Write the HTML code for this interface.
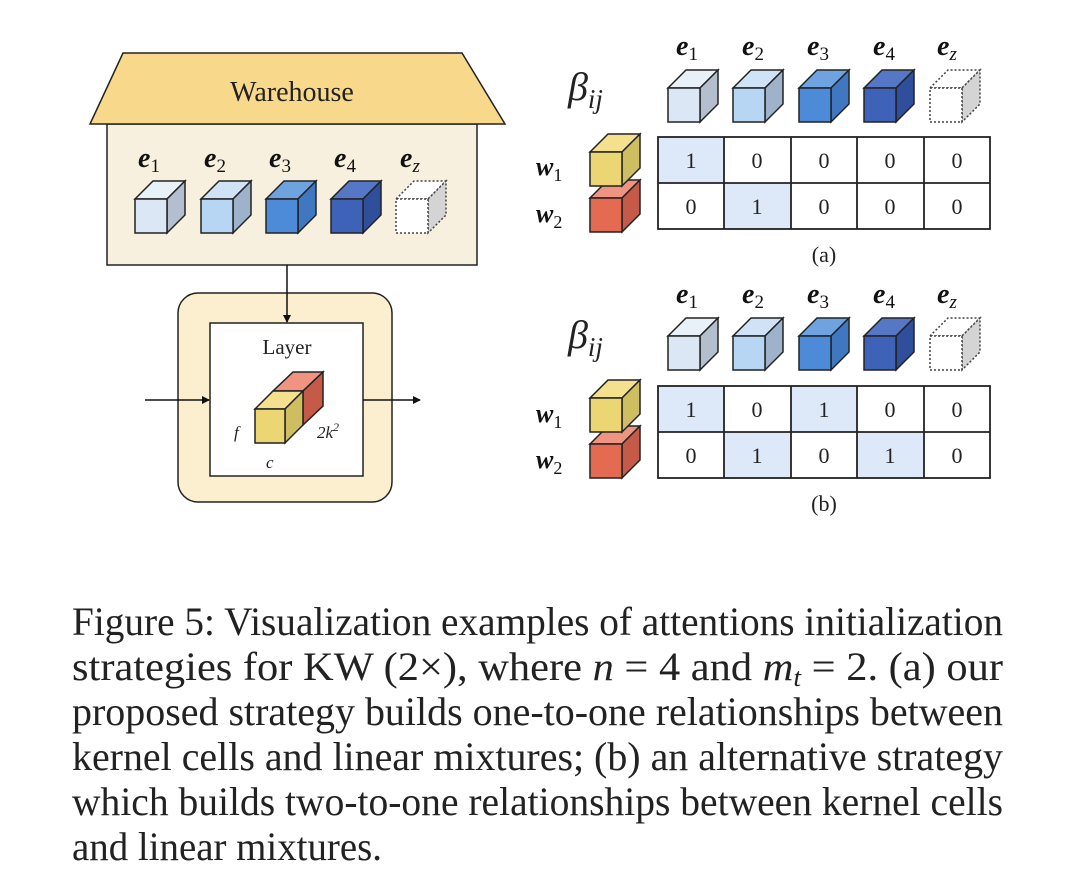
<!DOCTYPE html>
<html><head><meta charset="utf-8"><style>
html,body{margin:0;padding:0;background:#fff;}
svg{display:block;}
.s{font-family:"Liberation Serif","Times New Roman",serif;fill:#222;}
.b{font-family:"Liberation Serif","Times New Roman",serif;font-weight:bold;font-style:italic;fill:#111;}
</style></head><body>
<svg width="1080" height="896" viewBox="0 0 1080 896" xmlns="http://www.w3.org/2000/svg">
<defs>
<symbol id="c1" overflow="visible"><polygon points="0,18 18,0 50,0 32,18" fill="#e8f0f8" stroke="#222" stroke-width="1.5"/><polygon points="32,18 50,0 50,34 32,52" fill="#b3bfce" stroke="#222" stroke-width="1.5"/><rect x="0" y="18" width="32" height="34" fill="#dbe7f4" stroke="#222" stroke-width="1.5"/></symbol>
<symbol id="c2" overflow="visible"><polygon points="0,18 18,0 50,0 32,18" fill="#cfe2f6" stroke="#222" stroke-width="1.5"/><polygon points="32,18 50,0 50,34 32,52" fill="#9fb2cc" stroke="#222" stroke-width="1.5"/><rect x="0" y="18" width="32" height="34" fill="#b6d6f4" stroke="#222" stroke-width="1.5"/></symbol>
<symbol id="c3" overflow="visible"><polygon points="0,18 18,0 50,0 32,18" fill="#6fa3e0" stroke="#222" stroke-width="1.5"/><polygon points="32,18 50,0 50,34 32,52" fill="#3f78c0" stroke="#222" stroke-width="1.5"/><rect x="0" y="18" width="32" height="34" fill="#4d8bd8" stroke="#222" stroke-width="1.5"/></symbol>
<symbol id="c4" overflow="visible"><polygon points="0,18 18,0 50,0 32,18" fill="#5677c6" stroke="#222" stroke-width="1.5"/><polygon points="32,18 50,0 50,34 32,52" fill="#2f4f9c" stroke="#222" stroke-width="1.5"/><rect x="0" y="18" width="32" height="34" fill="#3d62b8" stroke="#222" stroke-width="1.5"/></symbol>
<symbol id="cz" overflow="visible"><polygon points="0,18 18,0 50,0 32,18" fill="#fff" stroke="#444" stroke-width="1.5" stroke-dasharray="2,2"/><polygon points="32,18 50,0 50,34 32,52" fill="#d4d4d4" stroke="#444" stroke-width="1.5" stroke-dasharray="2,2"/><rect x="0" y="18" width="32" height="34" fill="#fff" stroke="#444" stroke-width="1.5" stroke-dasharray="2,2"/></symbol>
<symbol id="cy" overflow="visible"><polygon points="0,18 18,0 50,0 32,18" fill="#f5e08e" stroke="#222" stroke-width="1.5"/><polygon points="32,18 50,0 50,34 32,52" fill="#cfbd62" stroke="#222" stroke-width="1.5"/><rect x="0" y="18" width="32" height="34" fill="#ecd674" stroke="#222" stroke-width="1.5"/></symbol>
<symbol id="cr" overflow="visible"><polygon points="0,18 18,0 50,0 32,18" fill="#ee9480" stroke="#222" stroke-width="1.5"/><polygon points="32,18 50,0 50,34 32,52" fill="#c55a48" stroke="#222" stroke-width="1.5"/><rect x="0" y="18" width="32" height="34" fill="#e46a52" stroke="#222" stroke-width="1.5"/></symbol>
<marker id="ah" markerWidth="8" markerHeight="8" refX="7" refY="4" orient="auto" markerUnits="userSpaceOnUse"><path d="M0,0 L8,4 L0,8 z" fill="#111"/></marker>
</defs>

<!-- Warehouse -->
<rect x="107" y="124" width="370" height="141" fill="#f7f0de" stroke="#222" stroke-width="1.5"/>
<polygon points="123,53 462,53 505,124 90,124" fill="#f8d98c" stroke="#222" stroke-width="1.5"/>
<text x="292" y="101" class="s" font-size="28" text-anchor="middle" fill="#333">Warehouse</text>
<g class="b" font-size="28">
<text x="138" y="167">e<tspan font-size="19" font-style="normal" font-weight="normal" dy="5">1</tspan></text>
<text x="204" y="167">e<tspan font-size="19" font-style="normal" font-weight="normal" dy="5">2</tspan></text>
<text x="269" y="167">e<tspan font-size="19" font-style="normal" font-weight="normal" dy="5">3</tspan></text>
<text x="334" y="167">e<tspan font-size="19" font-style="normal" font-weight="normal" dy="5">4</tspan></text>
<text x="400" y="167">e<tspan font-size="19" font-style="italic" font-weight="normal" dy="5">z</tspan></text>
</g>
<use href="#c1" x="135" y="181"/>
<use href="#c2" x="201" y="181"/>
<use href="#c3" x="266" y="181"/>
<use href="#c4" x="331" y="181"/>
<use href="#cz" x="396" y="181"/>

<!-- Layer -->
<rect x="178" y="293" width="214" height="209" rx="20" fill="#fbefcf" stroke="#222" stroke-width="1.5"/>
<rect x="210" y="323" width="153" height="153" fill="#fff" stroke="#222" stroke-width="1.5"/>
<line x1="287" y1="265" x2="287" y2="322" stroke="#111" stroke-width="1.5" marker-end="url(#ah)"/>
<text x="287" y="354" class="s" font-size="21" text-anchor="middle" fill="#333">Layer</text>
<polygon points="273,391 303,391 323,372 293,372" fill="#ee9480" stroke="#222" stroke-width="1.5"/>
<polygon points="303,391 323,372 323,406 303,425" fill="#c55a48" stroke="#222" stroke-width="1.5"/>
<polygon points="255,409 285,409 303,391 273,391" fill="#f5e08e" stroke="#222" stroke-width="1.5"/>
<polygon points="285,409 303,391 303,425 285,443" fill="#cfbd62" stroke="#222" stroke-width="1.5"/>
<rect x="255" y="409" width="30" height="34" fill="#ecd674" stroke="#222" stroke-width="1.5"/>
<text x="234" y="438" class="s" font-size="17" font-style="italic">f</text>
<text x="317" y="438" class="s" font-size="17" font-style="italic">2k<tspan font-size="12" dy="-7">2</tspan></text>
<text x="266" y="468" class="s" font-size="17" font-style="italic">c</text>
<line x1="145" y1="400" x2="209" y2="400" stroke="#111" stroke-width="1.5" marker-end="url(#ah)"/>
<line x1="363" y1="400" x2="420" y2="400" stroke="#111" stroke-width="1.5" marker-end="url(#ah)"/>

<!-- (a) -->
<text x="568" y="100" class="s" font-size="40" font-style="italic">β<tspan font-size="27" dy="8">ij</tspan></text>
<g class="b" font-size="28">
<text x="676" y="55">e<tspan font-size="19" font-style="normal" font-weight="normal" dy="5">1</tspan></text>
<text x="742" y="55">e<tspan font-size="19" font-style="normal" font-weight="normal" dy="5">2</tspan></text>
<text x="807" y="55">e<tspan font-size="19" font-style="normal" font-weight="normal" dy="5">3</tspan></text>
<text x="873" y="55">e<tspan font-size="19" font-style="normal" font-weight="normal" dy="5">4</tspan></text>
<text x="937" y="55">e<tspan font-size="19" font-style="italic" font-weight="normal" dy="5">z</tspan></text>
</g>
<use href="#c1" x="668" y="70"/>
<use href="#c2" x="733" y="70"/>
<use href="#c3" x="799" y="70"/>
<use href="#c4" x="864" y="70"/>
<use href="#cz" x="930" y="70"/>
<use href="#cr" x="590" y="180"/>
<use href="#cy" x="590" y="134"/>
<g class="b" font-size="26">
<text x="536" y="175">w<tspan font-size="18" font-style="normal" font-weight="normal" dy="6">1</tspan></text>
<text x="536" y="222">w<tspan font-size="18" font-style="normal" font-weight="normal" dy="6">2</tspan></text>
</g>
<rect x="658" y="137" width="66" height="46" fill="#dde8f8"/>
<rect x="724" y="183" width="67" height="46" fill="#dde8f8"/>
<g stroke="#222" stroke-width="1.8" fill="none">
<rect x="658" y="137" width="332" height="92"/>
<line x1="658" y1="183" x2="990" y2="183"/>
<line x1="724" y1="137" x2="724" y2="229"/><line x1="791" y1="137" x2="791" y2="229"/><line x1="857" y1="137" x2="857" y2="229"/><line x1="924" y1="137" x2="924" y2="229"/>
</g>
<g class="s" font-size="22" text-anchor="middle">
<text x="691" y="168">1</text><text x="757" y="168">0</text><text x="824" y="168">0</text><text x="890" y="168">0</text><text x="957" y="168">0</text>
<text x="691" y="214">0</text><text x="757" y="214">1</text><text x="824" y="214">0</text><text x="890" y="214">0</text><text x="957" y="214">0</text>
<text x="824" y="262">(a)</text>
</g>

<!-- (b) -->
<text x="568" y="348" class="s" font-size="40" font-style="italic">β<tspan font-size="27" dy="8">ij</tspan></text>
<g class="b" font-size="28">
<text x="676" y="303">e<tspan font-size="19" font-style="normal" font-weight="normal" dy="5">1</tspan></text>
<text x="742" y="303">e<tspan font-size="19" font-style="normal" font-weight="normal" dy="5">2</tspan></text>
<text x="807" y="303">e<tspan font-size="19" font-style="normal" font-weight="normal" dy="5">3</tspan></text>
<text x="873" y="303">e<tspan font-size="19" font-style="normal" font-weight="normal" dy="5">4</tspan></text>
<text x="937" y="303">e<tspan font-size="19" font-style="italic" font-weight="normal" dy="5">z</tspan></text>
</g>
<use href="#c1" x="668" y="318"/>
<use href="#c2" x="733" y="318"/>
<use href="#c3" x="799" y="318"/>
<use href="#c4" x="864" y="318"/>
<use href="#cz" x="930" y="318"/>
<use href="#cr" x="590" y="426"/>
<use href="#cy" x="590" y="380"/>
<g class="b" font-size="26">
<text x="536" y="422">w<tspan font-size="18" font-style="normal" font-weight="normal" dy="6">1</tspan></text>
<text x="536" y="468">w<tspan font-size="18" font-style="normal" font-weight="normal" dy="6">2</tspan></text>
</g>
<rect x="658" y="386" width="66" height="46" fill="#dde8f8"/>
<rect x="791" y="386" width="66" height="46" fill="#dde8f8"/>
<rect x="724" y="432" width="67" height="46" fill="#dde8f8"/>
<rect x="857" y="432" width="67" height="46" fill="#dde8f8"/>
<g stroke="#222" stroke-width="1.8" fill="none">
<rect x="658" y="386" width="332" height="92"/>
<line x1="658" y1="432" x2="990" y2="432"/>
<line x1="724" y1="386" x2="724" y2="478"/><line x1="791" y1="386" x2="791" y2="478"/><line x1="857" y1="386" x2="857" y2="478"/><line x1="924" y1="386" x2="924" y2="478"/>
</g>
<g class="s" font-size="22" text-anchor="middle">
<text x="691" y="417">1</text><text x="757" y="417">0</text><text x="824" y="417">1</text><text x="890" y="417">0</text><text x="957" y="417">0</text>
<text x="691" y="463">0</text><text x="757" y="463">1</text><text x="824" y="463">0</text><text x="890" y="463">1</text><text x="957" y="463">0</text>
<text x="824" y="511">(b)</text>
</g>

<!-- caption -->
<g class="s" font-size="40" fill="#1a1a1a">
<text x="72" y="635" textLength="931" lengthAdjust="spacingAndGlyphs">Figure 5: Visualization examples of attentions initialization</text>
<text x="72" y="680" textLength="931" lengthAdjust="spacingAndGlyphs">strategies for KW (2×), where <tspan font-style="italic">n</tspan> = 4 and <tspan font-style="italic">m<tspan font-size="26" dy="6">t</tspan></tspan><tspan dy="-6"> = 2. (a) our</tspan></text>
<text x="72" y="725" textLength="931" lengthAdjust="spacingAndGlyphs">proposed strategy builds one-to-one relationships between</text>
<text x="72" y="770" textLength="931" lengthAdjust="spacingAndGlyphs">kernel cells and linear mixtures; (b) an alternative strategy</text>
<text x="72" y="815" textLength="931" lengthAdjust="spacingAndGlyphs">which builds two-to-one relationships between kernel cells</text>
<text x="72" y="860" textLength="310" lengthAdjust="spacingAndGlyphs">and linear mixtures.</text>
</g>
</svg>
</body></html>
